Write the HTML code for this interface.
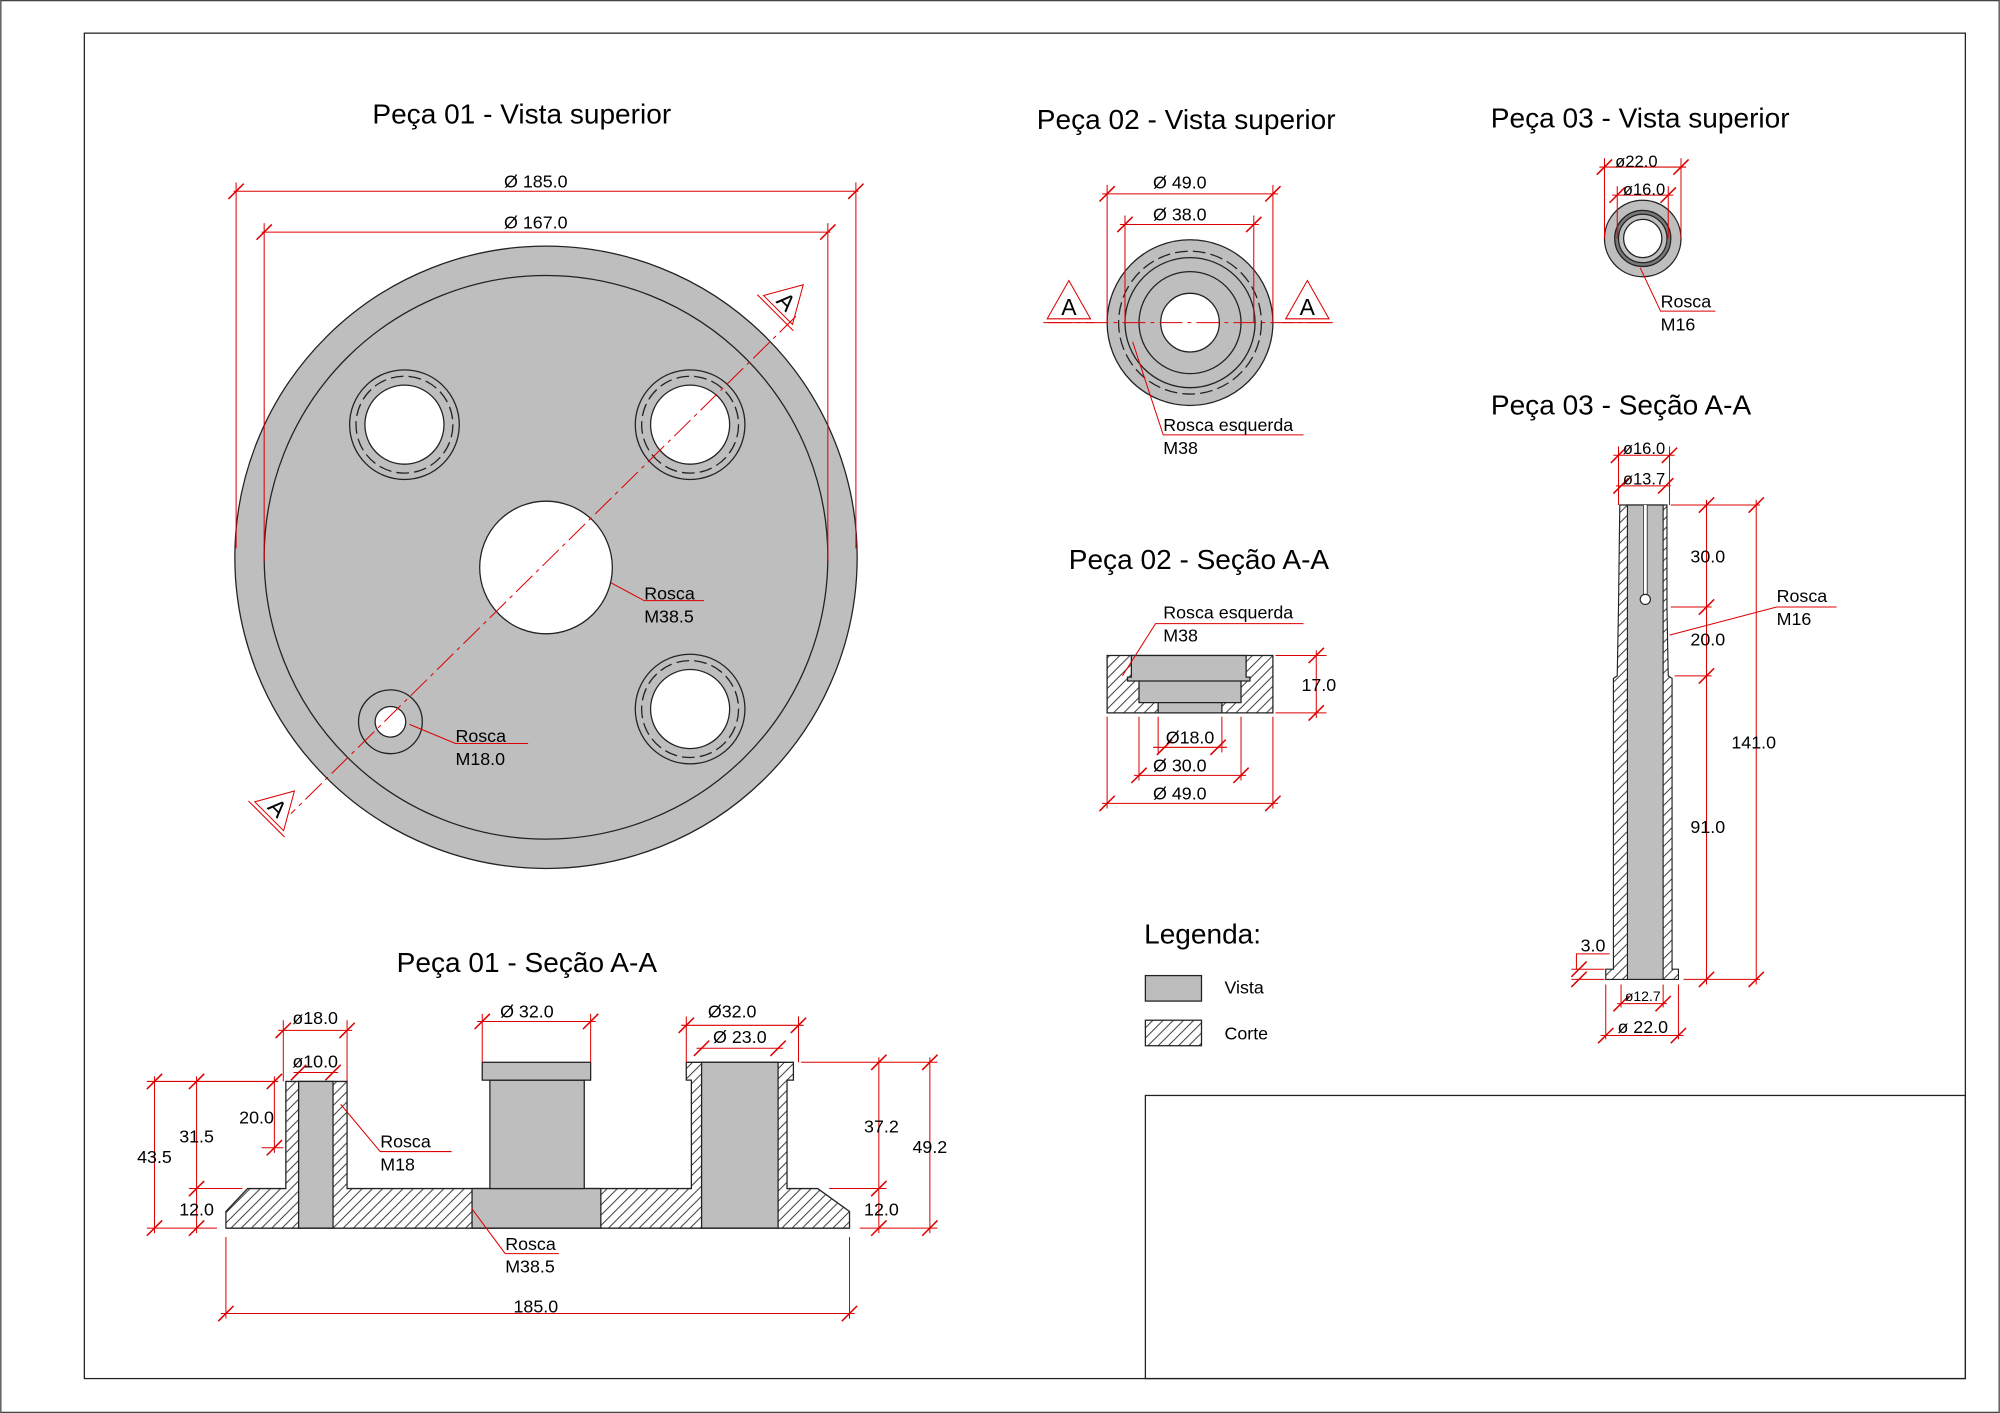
<!DOCTYPE html>
<html><head><meta charset="utf-8"><style>html,body{margin:0;padding:0;background:#fff}svg{display:block}</style></head>
<body>
<svg width="2000" height="1413" viewBox="0 0 1568 1108" xmlns="http://www.w3.org/2000/svg" font-family="Liberation Sans, Arial, sans-serif">
<defs>
<pattern id="h" patternUnits="userSpaceOnUse" width="8" height="8"><path d="M-2,10 L10,-2 M-2,2 L2,-2 M6,10 L10,6" stroke="#222" stroke-width="0.7"/></pattern>
<line id="t" x1="-6" y1="6" x2="6" y2="-6" stroke="#d00" stroke-width="1.2"/>
</defs>
<rect x="0.5" y="0.5" width="1567" height="1107" fill="#fff" stroke="#444" stroke-width="1"/>
<rect x="66" y="26" width="1475" height="1055" fill="none" stroke="#222" stroke-width="1"/>
<rect x="898" y="859" width="643" height="222" fill="none" stroke="#222" stroke-width="1"/>

<g font-size="22" fill="#000">
<text x="409" y="97" text-anchor="middle">Peça 01 - Vista superior</text>
<text x="930" y="101" text-anchor="middle">Peça 02 - Vista superior</text>
<text x="1286" y="100" text-anchor="middle">Peça 03 - Vista superior</text>
<text x="1271" y="325" text-anchor="middle">Peça 03 - Seção A-A</text>
<text x="940" y="446" text-anchor="middle">Peça 02 - Seção A-A</text>
<text x="413" y="762" text-anchor="middle">Peça 01 - Seção A-A</text>
<text x="897" y="740">Legenda:</text>
</g>

<rect x="898" y="765" width="44" height="20" fill="#bcbcbc" stroke="#222"/>
<rect x="898" y="800" width="44" height="20" fill="url(#h)" stroke="#222"/>
<text x="960" y="779" font-size="14">Vista</text>
<text x="960" y="815" font-size="14">Corte</text>

<g stroke="#222" stroke-width="1">
<circle cx="428" cy="437" r="244" fill="#bebebe"/>
<circle cx="428" cy="437" r="221" fill="none"/>
<circle cx="428" cy="445" r="52" fill="#fff"/>
<g fill="none">
<circle cx="317" cy="333" r="43"/><circle cx="541" cy="333" r="43"/><circle cx="541" cy="556" r="43"/>
<circle cx="317" cy="333" r="38" stroke-dasharray="10,4"/><circle cx="541" cy="333" r="38" stroke-dasharray="10,4"/><circle cx="541" cy="556" r="38" stroke-dasharray="10,4"/>
<circle cx="306" cy="566" r="25"/>
</g>
<circle cx="317" cy="333" r="31" fill="#fff"/><circle cx="541" cy="333" r="31" fill="#fff"/><circle cx="541" cy="556" r="31" fill="#fff"/>
<circle cx="306" cy="566" r="12" fill="#fff"/>
</g>
<g stroke="#d00" stroke-width="0.8" fill="none">
<line x1="624" y1="248" x2="228" y2="638" stroke-dasharray="18,4,3,4"/>
<line x1="183" y1="150" x2="673" y2="150"/><line x1="185" y1="143" x2="185" y2="430"/><line x1="671" y1="143" x2="671" y2="430"/>
<line x1="205" y1="182" x2="651" y2="182"/><line x1="207" y1="175" x2="207" y2="440"/><line x1="649" y1="175" x2="649" y2="440"/>
<polyline points="479,457 505,471 552,471"/>
<polyline points="321,568 357,583 414,583"/>
<g transform="translate(617,236) rotate(45)"><polygon points="0,-18 16,10 -16,10"/><line x1="-20" y1="13" x2="20" y2="13"/></g>
<g transform="translate(218,633) rotate(45)"><polygon points="0,-18 16,10 -16,10"/><line x1="-20" y1="13" x2="20" y2="13"/></g>
</g>
<text x="617" y="243" font-size="18" text-anchor="middle" transform="rotate(45 617 236)">A</text>
<text x="218" y="640" font-size="18" text-anchor="middle" transform="rotate(45 218 633)">A</text>
<use href="#t" x="185" y="150"/><use href="#t" x="671" y="150"/><use href="#t" x="207" y="182"/><use href="#t" x="649" y="182"/>
<g font-size="14">
<text x="420" y="147" text-anchor="middle">Ø 185.0</text>
<text x="420" y="179" text-anchor="middle">Ø 167.0</text>
<text x="505" y="470">Rosca</text><text x="505" y="488">M38.5</text>
<text x="357" y="582">Rosca</text><text x="357" y="600">M18.0</text>
</g>

<g stroke="#222" stroke-width="1">
<path d="M177,963 L177,950 L194,932 L224,932 L224,848 L272,848 L272,932 L542,932 L542,847 L538,847 L538,833 L622,833 L622,847 L617,847 L617,932 L641,932 L666,950 L666,963 Z" fill="url(#h)"/>
<rect x="234" y="848" width="27" height="115" fill="#bebebe"/>
<rect x="370" y="932" width="101" height="31" fill="#bebebe"/>
<rect x="384" y="847" width="74" height="85" fill="#bebebe"/>
<rect x="378" y="833" width="85" height="14" fill="#bebebe"/>
<rect x="550" y="833" width="60" height="130" fill="#bebebe"/>
</g>
<line x1="177" y1="963" x2="666" y2="963" stroke="#222"/>
<g stroke="#d00" stroke-width="0.8" fill="none">
<line x1="218" y1="808" x2="276" y2="808"/><line x1="222" y1="800" x2="222" y2="848"/><line x1="272" y1="800" x2="272" y2="848"/>
<line x1="230" y1="841" x2="265" y2="841"/>
<line x1="374" y1="801" x2="467" y2="801"/><line x1="378" y1="795" x2="378" y2="833"/><line x1="463" y1="795" x2="463" y2="833"/>
<line x1="534" y1="804" x2="630" y2="804"/><line x1="538" y1="797" x2="538" y2="833"/><line x1="626" y1="797" x2="626" y2="833"/>
<line x1="546" y1="822" x2="614" y2="822"/>
<line x1="115" y1="848" x2="218" y2="848"/><line x1="115" y1="963" x2="170" y2="963"/><line x1="148" y1="932" x2="190" y2="932"/><line x1="205" y1="900" x2="222" y2="900"/>
<line x1="121" y1="844" x2="121" y2="967"/><line x1="154" y1="844" x2="154" y2="967"/><line x1="215" y1="844" x2="215" y2="904"/>
<line x1="628" y1="833" x2="735" y2="833"/><line x1="674" y1="963" x2="735" y2="963"/><line x1="650" y1="932" x2="695" y2="932"/>
<line x1="689" y1="829" x2="689" y2="967"/><line x1="729" y1="829" x2="729" y2="967"/>
<line x1="177" y1="970" x2="177" y2="1034"/><line x1="666" y1="970" x2="666" y2="1034"/><line x1="173" y1="1030" x2="670" y2="1030"/>
<polyline points="267,866 298,903 354,903"/>
<polyline points="370,948 396,983 438,983"/>
</g>
<use href="#t" x="222" y="808"/><use href="#t" x="272" y="808"/><use href="#t" x="234" y="841"/><use href="#t" x="261" y="841"/>
<use href="#t" x="378" y="801"/><use href="#t" x="463" y="801"/><use href="#t" x="538" y="804"/><use href="#t" x="626" y="804"/>
<use href="#t" x="550" y="822"/><use href="#t" x="610" y="822"/>
<use href="#t" x="121" y="848"/><use href="#t" x="121" y="963"/><use href="#t" x="154" y="848"/><use href="#t" x="154" y="932"/><use href="#t" x="154" y="963"/>
<use href="#t" x="215" y="848"/><use href="#t" x="215" y="900"/>
<use href="#t" x="689" y="833"/><use href="#t" x="689" y="932"/><use href="#t" x="689" y="963"/><use href="#t" x="729" y="833"/><use href="#t" x="729" y="963"/>
<use href="#t" x="177" y="1030"/><use href="#t" x="666" y="1030"/>
<g font-size="14">
<text x="247" y="803" text-anchor="middle">ø18.0</text>
<text x="247" y="837" text-anchor="middle">ø10.0</text>
<text x="413" y="798" text-anchor="middle">Ø 32.0</text>
<text x="574" y="798" text-anchor="middle">Ø32.0</text>
<text x="580" y="818" text-anchor="middle">Ø 23.0</text>
<text x="121" y="912" text-anchor="middle">43.5</text>
<text x="154" y="896" text-anchor="middle">31.5</text>
<text x="201" y="881" text-anchor="middle">20.0</text>
<text x="154" y="953" text-anchor="middle">12.0</text>
<text x="691" y="888" text-anchor="middle">37.2</text>
<text x="729" y="904" text-anchor="middle">49.2</text>
<text x="691" y="953" text-anchor="middle">12.0</text>
<text x="420" y="1029" text-anchor="middle">185.0</text>
<text x="298" y="900">Rosca</text><text x="298" y="918">M18</text>
<text x="396" y="980">Rosca</text><text x="396" y="998">M38.5</text>
</g>

<g stroke="#222" stroke-width="1">
<circle cx="933" cy="253" r="65" fill="#bebebe"/>
<circle cx="933" cy="253" r="56" fill="none" stroke-dasharray="10,4"/>
<circle cx="933" cy="253" r="51" fill="none"/>
<circle cx="933" cy="253" r="40" fill="none"/>
<circle cx="933" cy="253" r="23" fill="#fff"/>
</g>
<g stroke="#d00" stroke-width="0.8" fill="none">
<line x1="822" y1="253" x2="1044" y2="253" stroke-dasharray="18,4,3,4"/>
<line x1="864" y1="152" x2="1002" y2="152"/><line x1="868" y1="145" x2="868" y2="253"/><line x1="998" y1="145" x2="998" y2="253"/>
<line x1="878" y1="176" x2="987" y2="176"/><line x1="882" y1="169" x2="882" y2="253"/><line x1="983" y1="169" x2="983" y2="253"/>
<polygon points="838,220 855,250 821,250"/><line x1="818" y1="253" x2="858" y2="253"/>
<polygon points="1025,220 1042,250 1008,250"/><line x1="1005" y1="253" x2="1045" y2="253"/>
<polyline points="888,268 912,341 1022,341"/>
</g>
<use href="#t" x="868" y="152"/><use href="#t" x="998" y="152"/><use href="#t" x="882" y="176"/><use href="#t" x="983" y="176"/>
<g font-size="14">
<text x="838" y="247" font-size="18" text-anchor="middle">A</text>
<text x="1025" y="247" font-size="18" text-anchor="middle">A</text>
<text x="925" y="148" text-anchor="middle">Ø 49.0</text>
<text x="925" y="173" text-anchor="middle">Ø 38.0</text>
<text x="912" y="338">Rosca esquerda</text><text x="912" y="356">M38</text>
</g>

<g stroke="#222" stroke-width="1">
<rect x="868" y="514" width="130" height="45" fill="url(#h)"/>
<path d="M887,514 L977,514 L977,531 L980,531 L980,534 L973,534 L973,551 L958,551 L958,559 L908,559 L908,551 L893,551 L893,534 L884,534 L884,531 L887,531 Z" fill="#bebebe"/>
<line x1="893" y1="534" x2="973" y2="534"/><line x1="908" y1="551" x2="958" y2="551"/>
</g>
<g stroke="#d00" stroke-width="0.8" fill="none">
<polyline points="880,530 906,489 1022,489"/>
<line x1="1000" y1="514" x2="1040" y2="514"/><line x1="1000" y1="559" x2="1040" y2="559"/><line x1="1032" y1="510" x2="1032" y2="563"/>
<line x1="868" y1="562" x2="868" y2="634"/><line x1="998" y1="562" x2="998" y2="634"/>
<line x1="893" y1="562" x2="893" y2="612"/><line x1="973" y1="562" x2="973" y2="612"/>
<line x1="908" y1="562" x2="908" y2="590"/><line x1="958" y1="562" x2="958" y2="590"/>
<line x1="904" y1="586" x2="962" y2="586"/><line x1="889" y1="608" x2="977" y2="608"/><line x1="864" y1="630" x2="1002" y2="630"/>
</g>
<use href="#t" x="1032" y="514"/><use href="#t" x="1032" y="559"/>
<use href="#t" x="913" y="586"/><use href="#t" x="955" y="586"/><use href="#t" x="893" y="608"/><use href="#t" x="973" y="608"/><use href="#t" x="868" y="630"/><use href="#t" x="998" y="630"/>
<g font-size="14">
<text x="912" y="485">Rosca esquerda</text><text x="912" y="503">M38</text>
<text x="1034" y="542" text-anchor="middle">17.0</text>
<text x="933" y="583" text-anchor="middle">Ø18.0</text>
<text x="925" y="605" text-anchor="middle">Ø 30.0</text>
<text x="925" y="627" text-anchor="middle">Ø 49.0</text>
</g>

<g stroke="#222" stroke-width="1">
<circle cx="1288" cy="187" r="30" fill="#bebebe"/>
<circle cx="1288" cy="187" r="22" fill="#777"/>
<circle cx="1288" cy="187" r="19" fill="#bebebe"/>
<circle cx="1288" cy="187" r="15" fill="#fff"/>
</g>
<g stroke="#d00" stroke-width="0.8" fill="none">
<line x1="1254" y1="131" x2="1322" y2="131"/><line x1="1258" y1="124" x2="1258" y2="187"/><line x1="1318" y1="124" x2="1318" y2="187"/>
<line x1="1264" y1="153" x2="1312" y2="153"/><line x1="1268" y1="146" x2="1268" y2="187"/><line x1="1308" y1="146" x2="1308" y2="187"/>
<polyline points="1286,210 1302,244 1345,244"/>
</g>
<use href="#t" x="1258" y="131"/><use href="#t" x="1318" y="131"/><use href="#t" x="1268" y="153"/><use href="#t" x="1308" y="153"/>
<g font-size="14">
<text x="1283" y="131" text-anchor="middle" font-size="13">ø22.0</text>
<text x="1289" y="153" text-anchor="middle" font-size="13">ø16.0</text>
<text x="1302" y="241">Rosca</text><text x="1302" y="259">M16</text>
</g>

<g stroke="#222" stroke-width="0.9">
<path d="M1270,396 L1307,396 L1307,476 L1308,530 L1311,532 L1311,760 L1316,760 L1316,768 L1259,768 L1259,760 L1265,760 L1265,532 L1268,530 L1269,476 Z" fill="url(#h)"/>
<rect x="1276" y="396" width="28" height="372" fill="#bebebe"/>
<line x1="1290" y1="396" x2="1290" y2="466" stroke-width="2.5" stroke="#fff"/>
<line x1="1288.5" y1="396" x2="1288.5" y2="466" stroke-width="0.6"/>
<line x1="1291.5" y1="396" x2="1291.5" y2="466" stroke-width="0.6"/>
<circle cx="1290" cy="470" r="4" fill="#fff"/>
</g>
<g stroke="#d00" stroke-width="0.8" fill="none">
<line x1="1265" y1="357" x2="1313" y2="357"/><line x1="1269" y1="350" x2="1269" y2="396"/><line x1="1309" y1="350" x2="1309" y2="396"/>
<line x1="1267" y1="381" x2="1310" y2="381"/>
<line x1="1310" y1="396" x2="1380" y2="396"/><line x1="1310" y1="476" x2="1342" y2="476"/><line x1="1313" y1="530" x2="1342" y2="530"/><line x1="1320" y1="768" x2="1380" y2="768"/>
<line x1="1338" y1="392" x2="1338" y2="772"/><line x1="1377" y1="392" x2="1377" y2="772"/>
<polyline points="1309,498 1393,476 1440,476"/>
<polyline points="1236,760 1236,748 1262,748"/><line x1="1232" y1="760" x2="1258" y2="760"/><line x1="1232" y1="768" x2="1258" y2="768"/>
<line x1="1259" y1="772" x2="1259" y2="815"/><line x1="1316" y1="772" x2="1316" y2="815"/>
<line x1="1271" y1="772" x2="1271" y2="790"/><line x1="1304" y1="772" x2="1304" y2="790"/>
<line x1="1268" y1="787" x2="1307" y2="787"/><line x1="1255" y1="812" x2="1320" y2="812"/>
</g>
<use href="#t" x="1269" y="357"/><use href="#t" x="1309" y="357"/><use href="#t" x="1271" y="381"/><use href="#t" x="1306" y="381"/>
<use href="#t" x="1338" y="396"/><use href="#t" x="1338" y="476"/><use href="#t" x="1338" y="530"/><use href="#t" x="1338" y="768"/>
<use href="#t" x="1377" y="396"/><use href="#t" x="1377" y="768"/>
<use href="#t" x="1238" y="760"/><use href="#t" x="1238" y="768"/>
<use href="#t" x="1271" y="787"/><use href="#t" x="1304" y="787"/><use href="#t" x="1259" y="812"/><use href="#t" x="1316" y="812"/>
<g font-size="14">
<text x="1289" y="356" text-anchor="middle" font-size="13">ø16.0</text>
<text x="1289" y="380" text-anchor="middle" font-size="13">ø13.7</text>
<text x="1339" y="441" text-anchor="middle">30.0</text>
<text x="1339" y="506" text-anchor="middle">20.0</text>
<text x="1375" y="587" text-anchor="middle">141.0</text>
<text x="1339" y="653" text-anchor="middle">91.0</text>
<text x="1393" y="472">Rosca</text><text x="1393" y="490">M16</text>
<text x="1249" y="746" text-anchor="middle">3.0</text>
<text x="1288" y="785" text-anchor="middle" font-size="11">ø12.7</text>
<text x="1288" y="810" text-anchor="middle">ø 22.0</text>
</g>
</svg>
</body></html>
